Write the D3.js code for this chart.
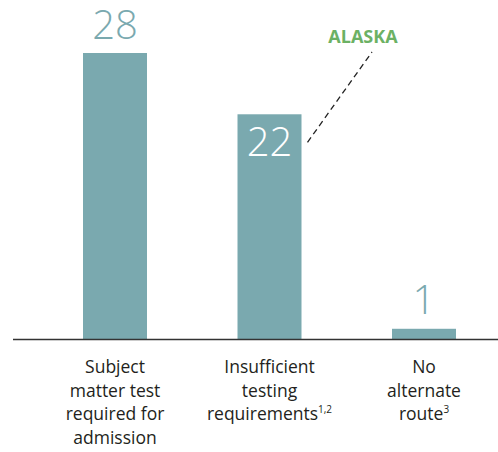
<!DOCTYPE html>
<html>
<head>
<meta charset="utf-8">
<script src="https://cdn.jsdelivr.net/npm/d3@7"></script>
<style>
  body { margin: 0; background: #fff; }
  text { font-family: "Open Sans", "Noto Sans", sans-serif; }
</style>
</head>
<body>
<svg id="chart" width="498" height="452"></svg>
<script>
var categories = ["subject", "insufficient", "noroute"];
var values = [28, 22, 1];
var labelLines = [
  [["Subject"], ["matter test"], ["required for"], ["admission"]],
  [["Insufficient"], ["testing"], ["requirements", "1,2"]],
  [["No"], ["alternate"], ["route", "3"]]
];
var calloutText = "ALASKA";

var svg = d3.select("#chart");
var barColor = "#7aa9af";
var baseY = 339;

var x = d3.scalePoint()
  .domain(categories)
  .range([115, 424]);

var y = d3.scaleLinear()
  .domain([0, 28])
  .range([baseY, 53]);

var barW = 64;

// bars
svg.selectAll("rect.bar")
  .data(values)
  .enter().append("rect")
  .attr("class", "bar")
  .attr("x", function(d, i) { return x(categories[i]) - barW / 2; })
  .attr("y", function(d) { return y(d); })
  .attr("width", barW)
  .attr("height", function(d) { return baseY - y(d); })
  .attr("fill", barColor);

// baseline
svg.append("line")
  .attr("x1", 13).attr("x2", 498)
  .attr("y1", baseY + 0.5).attr("y2", baseY + 0.5)
  .attr("stroke", "#333")
  .attr("stroke-width", 1.5);

// value labels (the middle one sits inside its bar)
svg.selectAll("text.val")
  .data(values)
  .enter().append("text")
  .attr("class", "val")
  .attr("x", function(d, i) { return x(categories[i]); })
  .attr("y", function(d, i) { return i === 1 ? y(d) + 42 : y(d) - 14.5; })
  .attr("text-anchor", "middle")
  .attr("font-size", 40)
  .attr("font-weight", 300)
  .attr("fill", function(d, i) { return i === 1 ? "#fff" : barColor; })
  .text(function(d) { return d; });

// category labels
var lab = svg.selectAll("g.lab")
  .data(labelLines)
  .enter().append("g")
  .attr("class", "lab")
  .attr("transform", function(d, i) { return "translate(" + x(categories[i]) + ",0)"; });

lab.each(function(lines) {
  var g = d3.select(this);
  lines.forEach(function(ln, j) {
    var t = g.append("text")
      .attr("x", 0)
      .attr("y", 373 + j * 23.5)
      .attr("text-anchor", "middle")
      .attr("font-size", 17.5)
      .attr("fill", "#231f20");
    t.append("tspan").text(ln[0]);
    if (ln[1]) {
      t.append("tspan")
        .attr("font-size", 10)
        .attr("dy", -7)
        .text(ln[1]);
    }
  });
});

// Alaska callout
var bx = x(categories[1]) + barW / 2;
svg.append("line")
  .attr("x1", bx + 6).attr("y1", y(values[1]) + 28)
  .attr("x2", 372).attr("y2", 52)
  .attr("stroke", "#222")
  .attr("stroke-width", 1.3)
  .attr("stroke-dasharray", "6,4");

svg.append("text")
  .attr("x", 363)
  .attr("y", 43)
  .attr("text-anchor", "middle")
  .attr("font-size", 18)
  .attr("font-weight", "bold")
  .attr("fill", "#6cb164")
  .text(calloutText);
</script>
</body>
</html>
